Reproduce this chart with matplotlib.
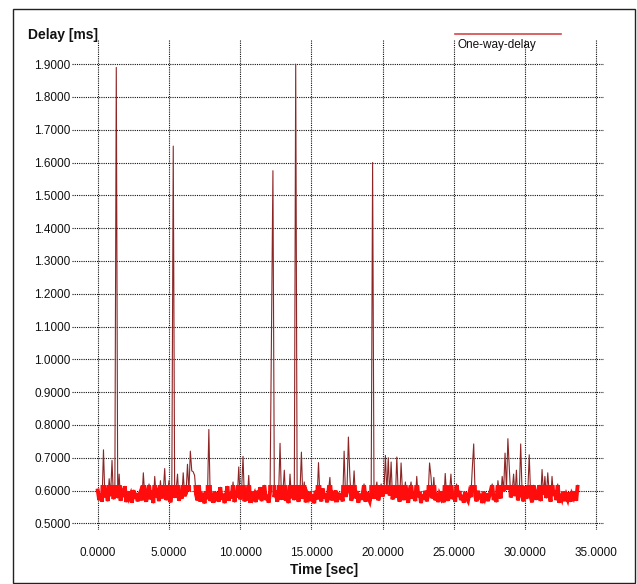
import matplotlib
matplotlib.use("Agg")
import matplotlib.pyplot as plt
from matplotlib.patches import Rectangle
from matplotlib.lines import Line2D
from matplotlib.ticker import FormatStrFormatter

plt.rcParams['font.family'] = ['Liberation Sans', 'DejaVu Sans']

# ---- data ----
time_sec = [
    0.0, 0.1, 0.2, 0.3, 0.4, 0.5, 0.6, 0.7, 0.8, 0.9,
    1.0, 1.1, 1.2, 1.3, 1.4, 1.5, 1.6, 1.7, 1.8, 1.9,
    2.0, 2.1, 2.2, 2.3, 2.4, 2.5, 2.6, 2.7, 2.8, 2.9,
    3.0, 3.1, 3.2, 3.3, 3.4, 3.5, 3.6, 3.7, 3.8, 3.9,
    4.0, 4.1, 4.2, 4.3, 4.4, 4.5, 4.6, 4.7, 4.8, 4.9,
    5.0, 5.1, 5.2, 5.3, 5.4, 5.5, 5.6, 5.7, 5.8, 5.9,
    6.0, 6.1, 6.2, 6.3, 6.4, 6.5, 6.6, 6.7, 6.8, 6.9,
    7.0, 7.1, 7.2, 7.3, 7.4, 7.5, 7.6, 7.7, 7.8, 7.9,
    8.0, 8.1, 8.2, 8.3, 8.4, 8.5, 8.6, 8.7, 8.8, 8.9,
    9.0, 9.1, 9.2, 9.3, 9.4, 9.5, 9.6, 9.7, 9.8, 9.9,
    10.0, 10.1, 10.2, 10.3, 10.4, 10.5, 10.6, 10.7, 10.8, 10.9,
    11.0, 11.1, 11.2, 11.3, 11.4, 11.5, 11.6, 11.7, 11.8, 11.9,
    12.0, 12.1, 12.2, 12.3, 12.4, 12.5, 12.6, 12.7, 12.8, 12.9,
    13.0, 13.1, 13.2, 13.3, 13.4, 13.5, 13.6, 13.7, 13.8, 13.9,
    14.0, 14.1, 14.2, 14.3, 14.4, 14.5, 14.6, 14.7, 14.8, 14.9,
    15.0, 15.1, 15.2, 15.3, 15.4, 15.5, 15.6, 15.7, 15.8, 15.9,
    16.0, 16.1, 16.2, 16.3, 16.4, 16.5, 16.6, 16.7, 16.8, 16.9,
    17.0, 17.1, 17.2, 17.3, 17.4, 17.5, 17.6, 17.7, 17.8, 17.9,
    18.0, 18.1, 18.2, 18.3, 18.4, 18.5, 18.6, 18.7, 18.8, 18.9,
    19.0, 19.1, 19.2, 19.3, 19.4, 19.5, 19.6, 19.7, 19.8, 19.9,
    20.0, 20.1, 20.2, 20.3, 20.4, 20.5, 20.6, 20.7, 20.8, 20.9,
    21.0, 21.1, 21.2, 21.3, 21.4, 21.5, 21.6, 21.7, 21.8, 21.9,
    22.0, 22.1, 22.2, 22.3, 22.4, 22.5, 22.6, 22.7, 22.8, 22.9,
    23.0, 23.1, 23.2, 23.3, 23.4, 23.5, 23.6, 23.7, 23.8, 23.9,
    24.0, 24.1, 24.2, 24.3, 24.4, 24.5, 24.6, 24.7, 24.8, 24.9,
    25.0, 25.1, 25.2, 25.3, 25.4, 25.5, 25.6, 25.7, 25.8, 25.9,
    26.0, 26.1, 26.2, 26.3, 26.4, 26.5, 26.6, 26.7, 26.8, 26.9,
    27.0, 27.1, 27.2, 27.3, 27.4, 27.5, 27.6, 27.7, 27.8, 27.9,
    28.0, 28.1, 28.2, 28.3, 28.4, 28.5, 28.6, 28.7, 28.8, 28.9,
    29.0, 29.1, 29.2, 29.3, 29.4, 29.5, 29.6, 29.7, 29.8, 29.9,
    30.0, 30.1, 30.2, 30.3, 30.4, 30.5, 30.6, 30.7, 30.8, 30.9,
    31.0, 31.1, 31.2, 31.3, 31.4, 31.5, 31.6, 31.7, 31.8, 31.9,
    32.0, 32.1, 32.2, 32.3, 32.4, 32.5, 32.6, 32.7, 32.8, 32.9,
    33.0, 33.1, 33.2, 33.3, 33.4, 33.5, 33.6, 33.7,
]

delay_ms = [
    0.600, 0.571, 0.589, 0.566, 0.724, 0.579, 0.596, 0.568, 0.636, 0.583,
    0.692, 0.574, 0.598, 1.890, 0.577, 0.650, 0.569, 0.593, 0.581, 0.613,
    0.565, 0.597, 0.578, 0.588, 0.563, 0.601, 0.575, 0.592, 0.567, 0.585,
    0.596, 0.570, 0.654, 0.582, 0.566, 0.594, 0.620, 0.573, 0.599, 0.562,
    0.643, 0.580, 0.591, 0.568, 0.630, 0.576, 0.597, 0.667, 0.571, 0.587,
    0.630, 0.564, 0.595, 1.650, 0.578, 0.600, 0.650, 0.569, 0.590, 0.575,
    0.654, 0.583, 0.592, 0.680, 0.598, 0.720, 0.660, 0.657, 0.646, 0.588,
    0.570, 0.616, 0.566, 0.593, 0.579, 0.561, 0.597, 0.574, 0.786, 0.568,
    0.589, 0.563, 0.596, 0.577, 0.584, 0.566, 0.610, 0.572, 0.590, 0.562,
    0.581, 0.613, 0.569, 0.594, 0.576, 0.626, 0.565, 0.591, 0.579, 0.672,
    0.573, 0.598, 0.704, 0.567, 0.585, 0.570, 0.646, 0.563, 0.596, 0.578,
    0.588, 0.565, 0.599, 0.574, 0.610, 0.568, 0.592, 0.616, 0.571, 0.586,
    0.563, 0.597, 1.090, 1.575, 0.580, 0.600, 0.566, 0.589, 0.744, 0.572,
    0.594, 0.662, 0.569, 0.583, 0.562, 0.650, 0.577, 0.598, 0.571, 1.900,
    0.585, 0.566, 0.593, 0.717, 0.575, 0.626, 0.564, 0.590, 0.579, 0.596,
    0.568, 0.587, 0.561, 0.599, 0.573, 0.685, 0.582, 0.567, 0.606, 0.576,
    0.591, 0.564, 0.597, 0.640, 0.570, 0.586, 0.578, 0.600, 0.565, 0.593,
    0.574, 0.589, 0.567, 0.720, 0.581, 0.596, 0.763, 0.646, 0.569, 0.584,
    0.660, 0.576, 0.598, 0.563, 0.590, 0.572, 0.587, 0.620, 0.566, 0.595,
    0.579, 0.568, 0.592, 1.600, 0.575, 0.601, 0.626, 0.570, 0.588, 0.620,
    0.582, 0.597, 0.707, 0.590, 0.700, 0.585, 0.687, 0.573, 0.603, 0.578,
    0.702, 0.589, 0.566, 0.684, 0.594, 0.571, 0.626, 0.586, 0.563, 0.598,
    0.626, 0.575, 0.591, 0.568, 0.643, 0.580, 0.596, 0.562, 0.587, 0.573,
    0.599, 0.567, 0.584, 0.684, 0.643, 0.576, 0.640, 0.570, 0.593, 0.565,
    0.588, 0.578, 0.597, 0.564, 0.652, 0.583, 0.569, 0.594, 0.650, 0.574,
    0.590, 0.566, 0.620, 0.581, 0.598, 0.571, 0.586, 0.563, 0.595, 0.577,
    0.569, 0.592, 0.580, 0.667, 0.742, 0.585, 0.567, 0.599, 0.574, 0.589,
    0.562, 0.596, 0.578, 0.591, 0.568, 0.584, 0.600, 0.620, 0.571, 0.587,
    0.565, 0.630, 0.593, 0.576, 0.643, 0.598, 0.714, 0.603, 0.758, 0.667,
    0.579, 0.596, 0.650, 0.583, 0.662, 0.570, 0.592, 0.742, 0.586, 0.567,
    0.613, 0.575, 0.598, 0.709, 0.581, 0.564, 0.616, 0.590, 0.572, 0.595,
    0.616, 0.568, 0.664, 0.587, 0.643, 0.577, 0.654, 0.593, 0.566, 0.643,
    0.584, 0.599, 0.571, 0.620, 0.563, 0.589, 0.576, 0.596, 0.568, 0.585,
    0.573, 0.594, 0.566, 0.588, 0.579, 0.597, 0.569, 0.616,
]

y_ticks = [0.5, 0.6, 0.7, 0.8, 0.9, 1.0, 1.1, 1.2, 1.3, 1.4, 1.5, 1.6, 1.7, 1.8, 1.9]
x_ticks = [0, 5, 10, 15, 20, 25, 30, 35]
series_name = "One-way-delay"
y_title = "Delay [ms]"
x_title = "Time [sec]"

# ---- figure ----
W, H = 637, 584
fig = plt.figure(figsize=(W / 100, H / 100), dpi=100)
fig.patch.set_facecolor('white')

# outer frame
fig.patches.append(Rectangle((13 / W, 1 - 583 / H), 622 / W, 574 / H,
                             transform=fig.transFigure, fill=False,
                             edgecolor='#222222', linewidth=1.0))

ax_l, ax_r, ax_t, ax_b = 72, 604, 40, 530
ax = fig.add_axes([ax_l / W, 1 - ax_b / H, (ax_r - ax_l) / W, (ax_b - ax_t) / H])
ax.set_xlim(-1.81, 35.55)
ax.set_ylim(0.4796, 1.9735)
for s in ax.spines.values():
    s.set_visible(False)

ax.set_xticks(x_ticks)
ax.set_yticks(y_ticks)
ax.xaxis.set_major_formatter(FormatStrFormatter('%.4f'))
ax.yaxis.set_major_formatter(FormatStrFormatter('%.4f'))
ax.tick_params(axis='both', length=0, labelsize=8.5, colors='#111111')
ax.tick_params(axis='y', pad=1)
ax.tick_params(axis='x', pad=12)
ax.grid(True, color='#111111', linestyle=(0, (1, 1)), linewidth=0.8)
ax.set_axisbelow(True)

# thin dark-red trace (spikes)
ax.plot(time_sec, delay_ms, color='#8e2525', linewidth=0.8, zorder=3)
# bright red dense band near the baseline
band_line, = ax.plot(time_sec, delay_ms, color='#ff0d0d', linewidth=2.8,
                     solid_joinstyle='miter', zorder=4)
band_clip = Rectangle((-2, 0.40), 40, 0.218, transform=ax.transData)
band_line.set_clip_path(band_clip)

fig.text(28 / W, 1 - 35 / H, y_title, fontsize=10, fontweight='bold',
         ha='left', va='center', color='#111111')
fig.text(324 / W, 1 - 570 / H, x_title, fontsize=10, fontweight='bold',
         ha='center', va='center', color='#111111')

# legend
fig.lines.append(Line2D([455 / W, 561 / W], [1 - 33.5 / H, 1 - 33.5 / H],
                        transform=fig.transFigure, color='#d44848', linewidth=1.2))
fig.text(457 / W, 1 - 45 / H, series_name, fontsize=8.5, ha='left', va='center',
         color='#111111')

fig.savefig('out.png', dpi=100)
